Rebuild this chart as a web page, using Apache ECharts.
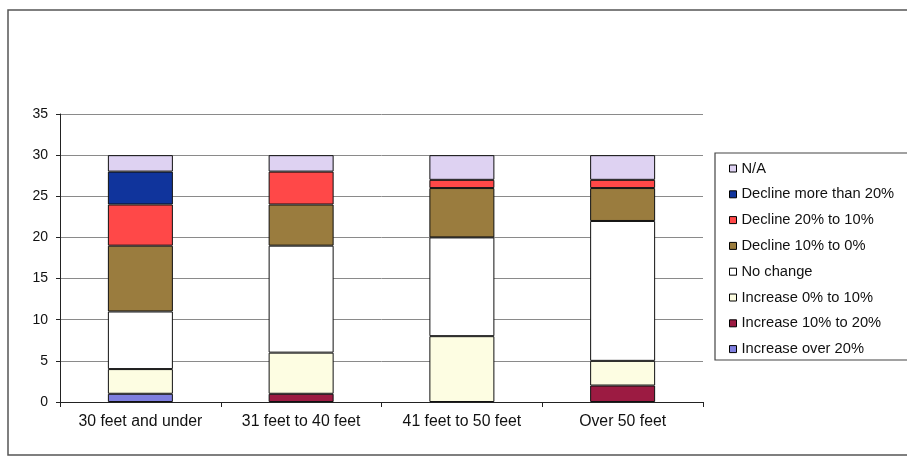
<!DOCTYPE html>
<html>
<head>
<meta charset="utf-8">
<script src="https://cdn.jsdelivr.net/npm/echarts@6/dist/echarts.min.js"></script>
<style>
  html, body { margin: 0; padding: 0; background: #fff; }
  #chart { width: 907px; height: 457px; }
</style>
</head>
<body>
<div id="chart"></div>
<script>
// Boat length classes
const categories = ['30 feet and under', '31 feet to 40 feet', '41 feet to 50 feet', 'Over 50 feet'];

// Responses per class, stacked bottom to top
const increaseOver20 = [1, 0, 0, 0];
const increase10to20 = [0, 1, 0, 2];
const increase0to10  = [3, 5, 8, 3];
const noChange       = [7, 13, 12, 17];
const decline10to0   = [8, 5, 6, 4];
const decline20to10  = [5, 4, 1, 1];
const declineOver20  = [4, 0, 0, 0];
const notApplicable  = [2, 2, 3, 3];

const yTicks = [0, 5, 10, 15, 20, 25, 30, 35];

const stackOrder = [
  { name: 'Increase over 20%',    data: increaseOver20, color: '#7f7fe0' },
  { name: 'Increase 10% to 20%',  data: increase10to20, color: '#9c1b42' },
  { name: 'Increase 0% to 10%',   data: increase0to10,  color: '#fdfde2' },
  { name: 'No change',            data: noChange,       color: '#ffffff' },
  { name: 'Decline 10% to 0%',    data: decline10to0,   color: '#9a7c3e' },
  { name: 'Decline 20% to 10%',   data: decline20to10,  color: '#ff4848' },
  { name: 'Decline more than 20%',data: declineOver20,  color: '#10349c' },
  { name: 'N/A',                  data: notApplicable,  color: '#ded2f2' }
];

const font = 'Liberation Sans, Arial, sans-serif';

const chart = echarts.init(document.getElementById('chart'), null, { renderer: 'canvas' });

chart.setOption({
  animation: false,
  backgroundColor: '#ffffff',
  textStyle: { fontFamily: font },
  graphic: [
    {
      type: 'rect',
      shape: { x: 8, y: 10, width: 930, height: 445 },
      style: { fill: 'none', stroke: '#555', lineWidth: 1.5 },
      z: 0
    },
    {
      type: 'rect',
      shape: { x: 715, y: 153, width: 220, height: 207 },
      style: { fill: 'none', stroke: '#444', lineWidth: 1.2 },
      z: 0
    }
  ],
  legend: {
    orient: 'vertical',
    left: 729,
    top: 161,
    padding: 0,
    itemWidth: 7,
    itemHeight: 7,
    itemGap: 10.8,
    icon: 'rect',
    data: stackOrder.slice().reverse().map(s => ({
      name: s.name,
      itemStyle: { borderColor: '#000', borderWidth: 1 }
    })),
    textStyle: { fontFamily: font, fontSize: 14.7, color: '#111', lineHeight: 14 },
    selectedMode: false
  },
  grid: { left: 60, right: 204, top: 114, bottom: 55 },
  xAxis: {
    type: 'category',
    data: categories,
    axisLine: { lineStyle: { color: '#222', width: 1 } },
    axisTick: { show: true, interval: 0, length: 5, lineStyle: { color: '#222' } },
    axisLabel: { interval: 0, color: '#111', fontSize: 15.8, margin: 12, fontFamily: font }
  },
  yAxis: {
    type: 'value',
    min: yTicks[0],
    max: yTicks[yTicks.length - 1],
    interval: yTicks[1] - yTicks[0],
    axisLine: { show: true, lineStyle: { color: '#222', width: 1 } },
    axisTick: { show: true, length: 4, lineStyle: { color: '#222' } },
    axisLabel: { color: '#111', fontSize: 14, margin: 12, fontFamily: font },
    splitLine: { lineStyle: { color: '#8a8a8a', width: 1 } }
  },
  series: stackOrder.map(s => ({
    name: s.name,
    type: 'bar',
    stack: 'total',
    barWidth: 65,
    data: s.data.map(v => (v === 0 ? null : v)),
    itemStyle: { color: s.color, borderColor: '#111', borderWidth: 1 }
  }))
});
</script>
</body>
</html>
